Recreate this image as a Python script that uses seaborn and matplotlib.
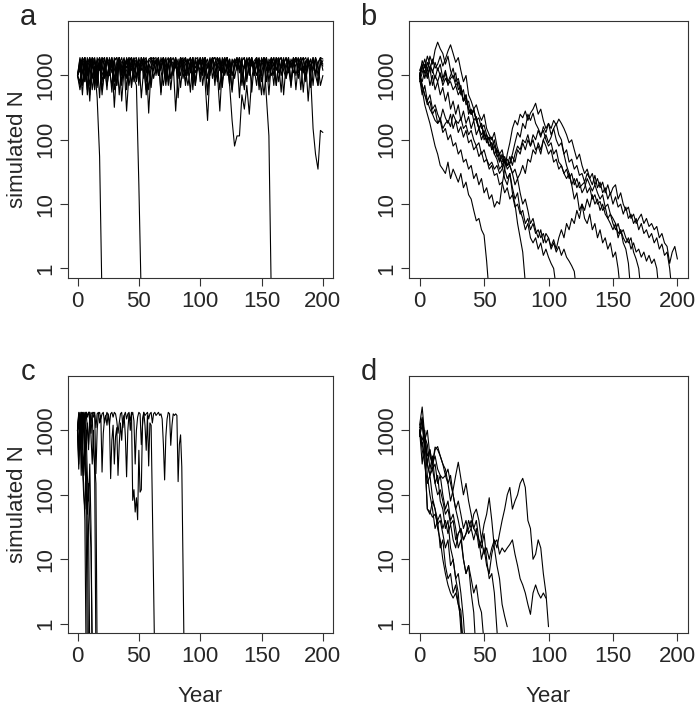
import numpy as np
import pandas as pd
import matplotlib
matplotlib.use('Agg')
import matplotlib.pyplot as plt
from matplotlib.ticker import NullLocator
import seaborn as sns

# simulated population trajectories
# panel a: one value every 2 years
a_step = 2
a_runs = [
    [1000, 1600, 700, 1900, 1000, 1500, 600, 1300, 450, 55, 0.3],
    [1000, 800, 1700, 1200, 1900, 700, 1400, 1800, 900, 1600,
     500, 1200, 1900, 1000, 1700, 600, 1300, 1900, 800, 1500,
     280, 1100, 1800, 900, 700, 20, 0.3],
    [1000, 1900, 1200, 800, 1600, 1900, 900, 1400, 700, 1800,
     1200, 1900, 1000, 1500, 1800, 320, 1300, 1900, 1100, 1600,
     900, 1700, 1900, 1200, 1500, 800, 1900, 1300, 1700, 600,
     1400, 1900, 1000, 1800, 1200, 700, 1600, 1900, 900, 1500,
     1800, 1100, 1900, 1300, 800, 1600, 1900, 1000, 1700, 1200,
     1900, 700, 1500, 1800, 1000, 1900, 1400, 800, 1700, 1200,
     1900, 1000, 1600, 600, 1800, 1300, 1900, 900, 1500, 1800,
     1100, 1900, 1300, 700, 1700, 1000, 1900, 450, 115, 0.3],
    [1000, 1300, 1900, 900, 1500, 1800, 1100, 600, 1600, 1900,
     800, 1400, 1900, 1200, 700, 1700, 1000, 1900, 400, 1300,
     1800, 1000, 1500, 1900, 900, 1600, 1200, 1900, 800, 1500,
     1300, 1200, 1800, 1000, 1900, 1400, 700, 1700, 1900, 1100,
     1500, 900, 1900, 1300, 1800, 1000, 1600, 1900, 700, 1400,
     1800, 1200, 1900, 900, 1600, 1900, 1000, 1500, 1800, 800,
     1300, 1900, 1100, 1700, 900, 1500, 1900, 1200, 600, 1800,
     1400, 1900, 1000, 1600, 1900, 800, 1300, 1800, 1100, 1900,
     1500, 700, 1700, 1900, 1200, 900, 1800, 1400, 1900, 1000,
     1600, 1900, 1300, 800, 1700, 1000, 150, 60, 35, 140,
     130],
    [1000, 700, 1500, 1900, 1200, 500, 1700, 1900, 1000, 1400,
     1900, 900, 1600, 1800, 1100, 1900, 700, 1500, 1900, 1200,
     1700, 1000, 1900, 1300, 800, 1800, 1500, 1900, 1100, 1600,
     1900, 900, 1400, 1800, 1200, 1900, 1000, 1700, 600, 1500,
     280, 1200, 1900, 1600, 1000, 1800, 1300, 1900, 800, 1500,
     1900, 1100, 1700, 1300, 1900, 900, 1600, 1900, 1200, 1800,
     1000, 1500, 700, 200, 80, 115, 115, 500, 300, 700,
     250, 900, 1500, 1900, 1100, 1700, 1300, 1900, 800, 1600,
     1900, 1200, 1800, 1000, 1500, 1900, 1300, 700, 1700, 1900,
     1100, 1600, 1900, 900, 1400, 1800, 1200, 1900, 1000, 1500,
     1700],
    [1000, 1800, 1100, 1500, 600, 1900, 1300, 1700, 900, 1900,
     1400, 1000, 1800, 1200, 1900, 800, 1600, 1900, 1100, 1700,
     1300, 1900, 700, 1500, 1800, 1000, 1900, 1400, 600, 1200,
     1800, 1900, 1100, 1600, 1300, 1900, 800, 1500, 1900, 1000,
     1700, 1200, 1900, 900, 1500, 1800, 1100, 1900, 1300, 1600,
     1000, 1900, 800, 200, 1200, 1900, 1400, 1700, 1900, 1100,
     1600, 1900, 900, 1500, 1800, 1200, 1900, 700, 1400, 1900,
     1000, 1700, 1300, 1900, 1100, 500, 1600, 1900, 1200, 1800,
     1400, 1900, 800, 1500, 1900, 1000, 1700, 1300, 1900, 600,
     1500, 1900, 1100, 1700, 400, 1300, 1900, 1000, 1600, 1900,
     1200],
    [1000, 1400, 1900, 800, 1300, 1800, 1600, 1000, 1900, 1200,
     1700, 1900, 900, 1500, 1900, 1300, 700, 1800, 1600, 1000,
     1900, 1500, 1200, 1800, 1900, 1000, 1400, 1700, 1900, 260,
     1300, 1800, 1900, 1100, 1600, 1900, 900, 1500, 1800, 1200,
     1900, 1400, 1000, 1700, 1900, 1200, 1600, 800, 1900, 1300,
     1700, 1000, 1900, 1500, 1200, 1800, 1900, 1100, 280, 1400,
     1900, 1300, 1800, 1000, 1600, 1900, 1200, 1700, 1900, 900,
     1500, 1900, 1300, 1000, 1800, 1600, 1900, 1200, 1500, 1900,
     1000, 1700, 1900, 1300, 1500, 1900, 1100, 1800, 1400, 1900,
     900, 1600, 1900, 1200, 1800, 1400, 1900, 1000, 700, 1800,
     1500],
    [1000, 1200, 1700, 1900, 500, 1500, 1900, 700, 1700, 450,
     1900, 1500, 600, 1900, 1300, 1700, 1900, 500, 1500, 1900,
     600, 1600, 1900, 800, 1800, 700, 1900, 1500, 500, 1800,
     1900, 1400, 1700, 1900, 500, 1600, 1900, 800, 1800, 1500,
     1900, 450, 1700, 1900, 700, 1500, 1900, 600, 1800, 1900,
     800, 1700, 1900, 500, 1500, 1800, 1900, 1400, 600, 1900,
     1600, 1900, 700, 1800, 1500, 1900, 450, 1700, 1900, 800,
     1900, 1400, 1700, 1900, 600, 1600, 1900, 800, 1800, 1500,
     1900, 700, 1700, 1900, 500, 1500, 1900, 800, 1800, 1600,
     1900, 600, 1700, 1900, 1400, 1800, 700, 1900, 1500, 1900,
     1800],
    [1000, 600, 1100, 1500, 700, 1300, 1800, 900, 1200, 1600,
     1000, 1400, 700, 1200, 1700, 900, 1300, 1800, 1000, 1500,
     1200, 700, 1400, 1800, 1000, 1300, 1700, 900, 1500, 1200,
     800, 1300, 1700, 1000, 1400, 1900, 1100, 1500, 900, 1300,
     1600, 1000, 1400, 1800, 1200, 700, 1300, 1700, 1100, 1500,
     1200, 1700, 1000, 1400, 1800, 1300, 900, 1500, 1200, 1700,
     1100, 1400, 1800, 1000, 1300, 1700, 1100, 1500, 1300, 1800,
     1200, 1600, 1000, 1400, 1800, 1100, 500, 1300, 1600, 1000,
     1300, 1800, 1100, 1400, 1700, 900, 1300, 1600, 1100, 1500,
     1800, 1200, 1400, 1000, 1600, 1300, 1700, 1100, 1500, 700,
     1000],
    [1000, 1500, 500, 1700, 1400, 400, 1900, 1500, 650, 1800,
     600, 1300, 1800, 1500, 550, 1700, 1900, 1400, 700, 1800,
     1500, 1900, 650, 1700, 1400, 1900, 450, 1300, 1800, 1500,
     650, 1700, 1500, 1900, 550, 1400, 1800, 700, 1600, 1900,
     1300, 1800, 650, 1500, 1900, 1400, 550, 1700, 700, 1800,
     1500, 1900, 1300, 550, 1600, 1800, 700, 1900, 1500, 650,
     1700, 1900, 1400, 550, 1500, 1800, 1300, 1900, 650, 1600,
     1900, 550, 1500, 1700, 700, 1900, 1400, 1800, 500, 1600,
     700, 1900, 1500, 550, 1800, 1300, 1900, 650, 1600, 1900,
     1300, 1700, 550, 1500, 1900, 650, 1400, 1800, 700, 1600,
     1400],
]

# panel b: one value every 2 years
b_step = 2
b_runs = [
    [1000, 600, 350, 250, 180, 120, 80, 60, 40, 35,
     30, 45, 25, 35, 28, 22, 30, 18, 22, 14,
     12, 8, 5.5, 6, 4, 3.3, 1.3, 0.4],
    [1200, 1500, 900, 1300, 700, 1000, 600, 800, 500, 650,
     400, 550, 300, 400, 250, 350, 200, 280, 180, 230,
     150, 200, 120, 150, 100, 130, 90, 110, 70, 100,
     60, 45, 60, 35, 25, 30, 15, 10, 5, 3,
     1.8, 0.6],
    [900, 1300, 1800, 1200, 2000, 1500, 2500, 3300, 2600, 2200,
     1500, 2000, 1200, 900, 1100, 600, 700, 400, 500, 300,
     250, 300, 200, 150, 180, 100, 120, 80, 90, 60,
     50, 35, 40, 25, 20, 30, 18, 12, 15, 8,
     6, 4, 5, 3, 2.5, 3, 2, 2.5, 1.6, 2,
     1.5, 1.2, 1, 0.5],
    [1000, 1400, 1100, 1600, 1200, 1800, 1300, 1500, 2000, 1400,
     1800, 2400, 3000, 2200, 1600, 1900, 1200, 800, 1000, 500,
     400, 300, 350, 250, 200, 250, 150, 120, 100, 130,
     80, 60, 70, 45, 50, 40, 30, 20, 25, 15,
     10, 12, 8, 5, 6, 4, 3, 4, 2.5, 3.5,
     3, 2, 2.5, 1.8, 2.2, 1.6, 2, 1.5, 1.3, 1.1,
     0.9, 0.4],
    [1100, 700, 500, 350, 400, 250, 300, 180, 200, 130,
     150, 100, 120, 80, 90, 60, 70, 45, 50, 35,
     40, 25, 30, 20, 25, 15, 18, 12, 14, 9,
     11, 10, 20, 35, 60, 90, 150, 200, 170, 250,
     220, 280, 200, 260, 300, 370, 250, 300, 200, 150,
     180, 120, 150, 100, 80, 90, 60, 70, 45, 50,
     35, 40, 28, 30, 22, 30, 25, 20, 28, 18,
     22, 15, 18, 12, 15, 10, 13, 9, 10, 7,
     9, 6, 7, 5, 6, 4, 5, 3.5, 4, 3,
     3.5, 2.5, 3, 2, 2.4, 1.6, 1.8, 1.0, 0.4],
    [1000, 800, 1200, 900, 1300, 700, 1000, 800, 1100, 700,
     900, 750, 800, 600, 700, 500, 600, 400, 450, 300,
     250, 280, 200, 220, 150, 170, 120, 100, 110, 80,
     70, 60, 50, 45, 40, 42, 55, 45, 70, 60,
     90, 70, 100, 80, 120, 100, 140, 110, 160, 130,
     180, 150, 200, 170, 210, 180, 150, 120, 90, 100,
     70, 50, 60, 40, 30, 35, 25, 30, 20, 25,
     18, 22, 15, 20, 14, 18, 20, 12, 15, 10,
     8, 9, 6, 7, 5, 6, 7, 5, 6, 4.5,
     5, 4, 4.5, 3, 3.5, 2.5, 2.2, 1.2, 1.8, 2.2,
     1.4],
    [800, 1100, 1500, 1000, 1400, 1200, 900, 1300, 1000, 800,
     1100, 700, 900, 1000, 700, 800, 500, 600, 350, 400,
     250, 300, 200, 150, 180, 120, 100, 80, 90, 60,
     70, 50, 45, 55, 40, 45, 60, 90, 130, 110,
     180, 150, 250, 200, 260, 180, 150, 120, 140, 100,
     80, 90, 60, 70, 45, 40, 30, 35, 25, 30,
     20, 25, 18, 20, 22, 15, 18, 12, 14, 10,
     11, 8, 9, 6, 7, 5, 4, 5, 3.5, 4,
     3, 2.5, 3, 1.8, 1.4, 1.0, 0.4],
    [1000, 700, 500, 400, 300, 250, 200, 180, 220, 150,
     180, 200, 160, 250, 200, 180, 220, 150, 170, 120,
     140, 100, 80, 90, 60, 70, 50, 40, 45, 35,
     40, 30, 35, 45, 40, 55, 40, 60, 80, 70,
     100, 90, 120, 80, 100, 70, 80, 60, 100, 120,
     90, 110, 150, 180, 120, 100, 60, 40, 30, 20,
     12, 15, 8, 10, 6, 5, 7, 4, 5, 3,
     4, 2.5, 3, 2, 2.5, 1.5, 1.8, 1.0, 0.4],
    [900, 500, 700, 400, 500, 300, 350, 250, 200, 300,
     220, 180, 250, 150, 200, 130, 160, 110, 140, 90,
     100, 70, 80, 55, 65, 45, 50, 35, 40, 28,
     30, 20, 22, 15, 18, 12, 14, 9, 10, 7,
     8, 5, 6, 4, 5, 3.5, 4, 3, 3.5, 2.5,
     3, 2.2, 2.8, 2, 3, 4, 3, 5, 4, 6,
     5, 8, 6, 10, 8, 12, 9, 14, 10, 12,
     8, 10, 7, 6, 5, 4, 5, 3, 4, 3,
     2.5, 3, 2, 2.5, 1.8, 2, 1.5, 1.8, 1.3, 1.6,
     1.2, 1.4, 1.0, 0.4],
    [1000, 1700, 1300, 2000, 1500, 1100, 1600, 1200, 1500, 900,
     1200, 800, 1000, 1300, 800, 900, 600, 400, 500, 250,
     300, 200, 230, 150, 120, 140, 100, 110, 70, 80,
     55, 60, 40, 50, 35, 40, 30, 35, 25, 30,
     40, 30, 50, 45, 70, 60, 90, 70, 100, 80,
     60, 70, 45, 50, 35, 40, 30, 25, 30, 20,
     25, 18, 22, 15, 18, 25, 20, 16, 20, 15,
     12, 14, 9, 10, 7, 6, 5, 3.5, 4, 2.5,
     2, 1.2, 0.4],
]

# panel c: yearly values
c_step = 1
c_runs = [
    [1000, 1500, 600, 1200, 300, 150, 40, 0.3],
    [1000, 400, 1700, 900, 1500, 200, 600, 60, 0.3],
    [1000, 1800, 1100, 1900, 500, 1300, 800, 300, 100, 30, 0.3],
    [1000, 250, 800, 1600, 700, 1900, 400, 1000, 200, 80, 300, 30, 0.3],
    [1000, 1900, 1300, 1800, 900, 1500, 1900, 700, 1300, 500, 1900, 800,
     300, 1000, 200, 0.3],
    [1000, 600, 1400, 200, 900, 1700, 400, 100, 50, 150, 40, 15, 0.3],
    [1000, 1600, 1900, 1200, 1800, 1000, 1600, 1900, 1100, 600, 1400, 900,
     1700, 500, 300, 150, 0.3],
    [1000, 1300, 500, 1100, 300, 100, 60, 200, 30, 0.3],
    [1000, 1700, 1200, 1900, 1500, 1800, 1300, 1900, 1700, 1900,
     1400, 1800, 1900, 1600, 1900, 1100, 1800, 1900, 1300, 1700,
     225, 900, 1500, 1700, 1200, 1800, 1400, 178, 700, 1200,
     300, 800, 1100, 200, 600, 1300, 700, 1500, 1700, 800,
     190, 1000, 1800, 1400, 1900, 82, 120, 54, 90, 41,
     490, 110, 120, 1500, 1900, 1200, 490, 1700, 280, 1300,
     1200, 70, 4, 0.2],
    [1000, 300, 1100, 1800, 1900, 1200, 1700, 1900, 1600, 1900,
     1900, 1300, 1800, 1900, 1700, 213, 1000, 1800, 1900, 1500,
     1800, 1900, 1300, 1600, 1900, 1700, 1200, 1800, 1900, 1600,
     1900, 1800, 1400, 900, 1300, 1800, 1900, 1100, 1700, 1900,
     1500, 1800, 1900, 1000, 1700, 1900, 1400, 300, 1000, 1600,
     1900, 1800, 600, 1200, 1900, 1700, 1800, 1900, 1500, 1800,
     1900, 1300, 1800, 1900, 1700, 1800, 1900, 1700, 1800, 1500,
     600, 170, 800, 1500, 1900, 1800, 585, 1200, 1800, 1700,
     1800, 1700, 160, 600, 850, 270, 8, 0.2],
]

# panel d: one value every 2 years
d_step = 2
d_runs = [
    [1000, 500, 300, 150, 200, 90, 60, 30, 20, 10, 6, 4, 3, 2.5, 3, 2, 1.2, 0.3],
    [1200, 2300, 800, 600, 250, 400, 150, 200, 80, 60, 30, 40, 15, 10, 5, 3, 0.8, 0.2],
    [900, 1500, 400, 60, 55, 45, 50, 35, 40, 25, 15, 20, 8, 10, 5, 6, 3, 1.2, 0.3],
    [1000, 700, 1000, 300, 500, 250, 300, 150, 200, 100, 60, 80, 40, 50, 30,
     15, 20, 10, 6, 8, 3, 1.5, 0.3],
    [1100, 1600, 800, 400, 500, 300, 550, 500, 400, 300, 200, 250, 150, 100,
     60, 40, 25, 10, 6, 8, 5, 3, 4, 2, 1.5, 0.5],
    [800, 1200, 600, 300, 200, 300, 400, 250, 200, 180, 200, 150, 80, 120,
     200, 320, 180, 100, 150, 80, 50, 30, 40, 20, 15, 25, 10, 5, 6, 3, 0.8, 0.2],
    [1000, 600, 400, 60, 50, 80, 60, 40, 50, 30, 40, 25, 35, 20, 15, 25, 30,
     20, 25, 40, 30, 50, 60, 40, 20, 35, 50, 90, 40, 15, 8, 5, 2, 1.3, 0.9],
    [1000, 300, 700, 200, 100, 60, 30, 40, 15, 20, 8, 5, 6, 3, 4, 2, 1.6, 0.4],
    [1000, 1400, 700, 1000, 400, 300, 500, 560, 400, 300,
     250, 150, 200, 100, 60, 80, 50, 30, 40, 25,
     30, 20, 30, 15, 20, 12, 15, 10, 15, 20,
     15, 25, 40, 60, 100, 130, 60, 80, 100, 150,
     180, 130, 40, 30, 10, 12, 20, 15, 6, 3,
     0.9],
    [900, 600, 800, 300, 200, 250, 150, 100, 120, 80,
     50, 60, 35, 40, 20, 25, 30, 20, 25, 30,
     40, 30, 25, 20, 10, 15, 8, 6, 12, 18,
     20, 12, 15, 13, 15, 17, 20, 12, 8, 5,
     4, 3, 2, 1.4, 3, 4, 3, 2.5, 3, 2.5],
]

y_ticks = [1, 10, 100, 1000]
y_ticklabels = ['1', '10', '100', '1000']
x_ticks = [0, 50, 100, 150, 200]
panel_letters = ['a', 'b', 'c', 'd']


def long_form(runs, step):
    rows = []
    for k, vals in enumerate(runs):
        for i, v in enumerate(vals):
            rows.append((k, i * step, v))
    return pd.DataFrame(rows, columns=['run', 'year', 'N'])


sns.set_style('ticks')
plt.rcParams['font.family'] = ['Liberation Sans', 'DejaVu Sans']

W, H = 700, 712
fig = plt.figure(figsize=(W / 100, H / 100), dpi=100)

# box edges in pixels: left, top, right, bottom
boxes = [(67.7, 21, 332.7, 278), (409.3, 21, 687.7, 278),
         (67.7, 375.7, 332.7, 633.3), (409.3, 375.7, 687.7, 633.3)]
panels = [(a_runs, a_step), (b_runs, b_step), (c_runs, c_step), (d_runs, d_step)]

for (runs, step), (l, t, r, b), letter in zip(panels, boxes, panel_letters):
    ax = fig.add_axes([l / W, 1 - b / H, (r - l) / W, (b - t) / H])
    df = long_form(runs, step)
    sns.lineplot(data=df, x='year', y='N', units='run', estimator=None,
                 color='black', lw=0.8, ax=ax, legend=False)
    ax.set_yscale('log')
    ax.set_xlim(-8, 208)
    ax.set_ylim(10 ** -0.148, 10 ** 3.847)
    ax.set_xticks(x_ticks)
    ax.set_xticklabels([str(v) for v in x_ticks])
    ax.set_yticks(y_ticks)
    ax.set_yticklabels(y_ticklabels, rotation=90, va='center')
    ax.yaxis.set_minor_locator(NullLocator())
    ax.set_xlabel('')
    ax.set_ylabel('')
    ax.tick_params(axis='both', direction='out', length=5.5, width=0.8,
                   color='#333333', labelsize=16)
    ax.tick_params(axis='x', pad=4)
    ax.tick_params(axis='y', pad=3)
    for s in ax.spines.values():
        s.set_color('#333333')
        s.set_linewidth(0.8)
    # panel letter
    cx = 27.7 if l < 100 else 368.5
    fig.text(cx / W, 1 - (t + 4) / H, letter, fontsize=21,
             ha='center', va='baseline')

# axis titles, R style (outside the boxes)
for (l, t, r, b) in [boxes[0], boxes[2]]:
    fig.text(17.5 / W, 1 - ((t + b) / 2) / H, 'simulated N', rotation=90,
             fontsize=16, ha='center', va='center')
for (l, t, r, b) in [boxes[2], boxes[3]]:
    fig.text(((l + r) / 2) / W, 1 - 697 / H, 'Year',
             fontsize=16, ha='center', va='center')

fig.savefig('out.png', dpi=100)
